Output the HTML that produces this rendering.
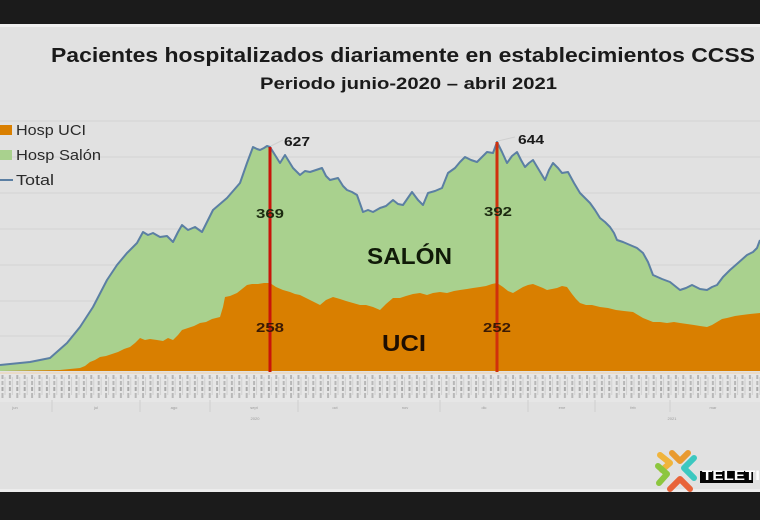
<!DOCTYPE html>
<html><head><meta charset="utf-8"><style>
html,body{margin:0;padding:0;width:760px;height:520px;overflow:hidden;background:#1b1b1b;}
svg{display:block;}
text{font-family:"Liberation Sans",sans-serif;}
</style></head><body>
<svg width="760" height="520" viewBox="0 0 760 520" xmlns="http://www.w3.org/2000/svg">
<defs>
<pattern id="tk" x="0" y="373" width="7.4" height="28" patternUnits="userSpaceOnUse">
<rect x="1.5" y="2" width="2" height="4" fill="#b4b4b4"/>
<rect x="1.5" y="8" width="2" height="4" fill="#b8b8b8"/>
<rect x="1.5" y="14" width="2" height="4" fill="#a8a8a8"/>
<rect x="1.5" y="20" width="2" height="5" fill="#b8b8b8"/>
<rect x="4.5" y="4" width="1" height="18" fill="#cfcfcf"/>
</pattern>
</defs>
<rect x="0" y="0" width="760" height="520" fill="#1b1b1b"/>
<rect x="0" y="24" width="760" height="468" fill="#e1e1e1"/>
<rect x="0" y="24" width="760" height="3" fill="#efefef"/>
<rect x="0" y="489" width="760" height="3" fill="#ececec"/>
<!-- gridlines -->
<g stroke="#d2d2d2" stroke-width="1">
<line x1="0" y1="121" x2="760" y2="121"/>
<line x1="0" y1="157" x2="760" y2="157"/>
<line x1="0" y1="193" x2="760" y2="193"/>
<line x1="0" y1="229" x2="760" y2="229"/>
<line x1="0" y1="265" x2="760" y2="265"/>
<line x1="0" y1="301" x2="760" y2="301"/>
<line x1="0" y1="336" x2="760" y2="336"/>
</g>
<!-- green (total) area -->
<polygon fill="#a9d18e" points="0,371 0,365 30,362 50,358 67,343 80,327 93,307 107,280 117,265 127,253 137,243 143,232 148,235 153,233 160,237 167,236 173,242 178,232 182,225 188,230 195,227 202,232 213,210 227,198 240,183 247,163 253,147 257,149 260,150 264,148 267,146 270,147 275,155 280,163 285,155 293,168 300,175 305,171 310,172 316,170 322,168 326,176 330,180 338,178 343,186 347,190 352,192 357,195 363,212 368,210 373,212 380,208 386,206 393,200 398,204 403,205 412,192 418,200 423,205 428,193 435,191 442,188 448,173 455,168 460,162 465,157 471,160 477,162 482,157 487,152 493,153 497,142 502,152 507,163 512,156 517,152 521,160 525,167 529,163 533,160 539,170 545,180 549,170 553,163 558,168 562,173 568,172 574,183 580,193 585,198 590,203 595,210 600,218 605,222 610,227 614,233 617,240 623,242 630,245 637,248 643,253 648,262 653,275 662,279 670,282 675,286 680,290 686,288 692,285 700,289 707,290 712,287 717,285 723,277 730,270 738,263 747,255 753,252 757,248 760,240 760,371"/>
<!-- orange (UCI) area -->
<polygon fill="#d97f00" points="0,371 60,370 70,369 80,368 85,366 90,362 95,360 100,357 106,356 112,354 118,352 124,349 130,347 135,343 140,338 145,340 150,339 157,340 163,341 168,338 173,340 178,335 182,330 188,328 194,326 200,323 206,322 212,319 220,317 223,307 225,297 230,296 237,293 242,289 247,285 252,284 258,284 264,283 270,283 276,287 283,290 290,292 295,294 300,295 306,298 312,301 316,303 320,305 326,300 333,297 340,299 346,301 353,303 360,305 366,305 373,307 380,310 386,304 393,298 400,298 406,296 413,294 420,293 427,295 433,293 440,292 447,293 454,291 460,290 467,289 473,288 480,287 486,286 492,284 497,283 503,287 508,291 513,293 518,290 523,287 528,285 533,284 538,286 543,288 547,290 552,289 557,288 562,286 567,287 572,294 576,299 580,303 586,305 592,305 600,307 608,308 616,310 624,311 633,312 638,315 643,318 648,320 653,322 660,322 667,323 674,322 680,323 687,324 694,325 700,326 707,327 712,325 717,322 722,319 727,318 735,316 742,315 750,314 760,313 760,371"/>
<!-- total line -->
<polyline fill="none" stroke="#5b7fa3" stroke-width="2" stroke-linejoin="round" points="0,365 30,362 50,358 67,343 80,327 93,307 107,280 117,265 127,253 137,243 143,232 148,235 153,233 160,237 167,236 173,242 178,232 182,225 188,230 195,227 202,232 213,210 227,198 240,183 247,163 253,147 257,149 260,150 264,148 267,146 270,147 275,155 280,163 285,155 293,168 300,175 305,171 310,172 316,170 322,168 326,176 330,180 338,178 343,186 347,190 352,192 357,195 363,212 368,210 373,212 380,208 386,206 393,200 398,204 403,205 412,192 418,200 423,205 428,193 435,191 442,188 448,173 455,168 460,162 465,157 471,160 477,162 482,157 487,152 493,153 497,142 502,152 507,163 512,156 517,152 521,160 525,167 529,163 533,160 539,170 545,180 549,170 553,163 558,168 562,173 568,172 574,183 580,193 585,198 590,203 595,210 600,218 605,222 610,227 614,233 617,240 623,242 630,245 637,248 643,253 648,262 653,275 662,279 670,282 675,286 680,290 686,288 692,285 700,289 707,290 712,287 717,285 723,277 730,270 738,263 747,255 753,252 757,248 760,240"/>
<!-- red markers -->
<line x1="270" y1="147" x2="270" y2="372" stroke="#c8140a" stroke-width="3"/>
<line x1="497" y1="142" x2="497" y2="372" stroke="#d0300c" stroke-width="3"/>
<line x1="271" y1="146" x2="283" y2="140" stroke="#cfcfcf" stroke-width="1"/>
<line x1="498" y1="141" x2="515" y2="137" stroke="#cfcfcf" stroke-width="1"/>
<!-- axis strip -->
<rect x="0" y="372" width="760" height="2" fill="#eadbc8"/>
<rect x="0" y="374" width="760" height="28" fill="#e6e6e6"/>
<rect x="0" y="374" width="760" height="28" fill="url(#tk)"/>
<g stroke="#cfcfcf" stroke-width="1">
<line x1="52" y1="400" x2="52" y2="412"/>
<line x1="140" y1="400" x2="140" y2="412"/>
<line x1="210" y1="400" x2="210" y2="412"/>
<line x1="298" y1="400" x2="298" y2="412"/>
<line x1="440" y1="400" x2="440" y2="412"/>
<line x1="528" y1="400" x2="528" y2="412"/>
<line x1="595" y1="400" x2="595" y2="412"/>
<line x1="670" y1="400" x2="670" y2="412"/>
</g>
<g font-size="4" fill="#9a9a9a" text-anchor="middle">
<text x="15" y="409">jun</text><text x="96" y="409">jul</text><text x="174" y="409">ago</text>
<text x="254" y="409">sept</text><text x="335" y="409">oct</text><text x="405" y="409">nov</text>
<text x="484" y="409">dic</text><text x="562" y="409">ene</text><text x="633" y="409">feb</text><text x="713" y="409">mar</text>
<text x="255" y="420">2020</text><text x="672" y="420">2021</text>
</g>
<!-- titles -->
<text x="51" y="62" font-size="20" font-weight="bold" fill="#1a1a1a" textLength="704" lengthAdjust="spacingAndGlyphs">Pacientes hospitalizados diariamente en establecimientos CCSS</text>
<text x="260" y="89" font-size="17" font-weight="bold" fill="#1a1a1a" textLength="297" lengthAdjust="spacingAndGlyphs">Periodo junio-2020 – abril 2021</text>
<!-- legend -->
<rect x="0" y="125" width="12" height="10" fill="#d97f00"/>
<text x="16" y="135" font-size="15" fill="#2a2a2a" textLength="70" lengthAdjust="spacingAndGlyphs">Hosp UCI</text>
<rect x="0" y="150" width="12" height="10" fill="#a9d18e"/>
<text x="16" y="160" font-size="15" fill="#2a2a2a" textLength="85" lengthAdjust="spacingAndGlyphs">Hosp Salón</text>
<line x1="0" y1="180" x2="13" y2="180" stroke="#5b7fa3" stroke-width="2"/>
<text x="16" y="185" font-size="15" fill="#2a2a2a" textLength="38" lengthAdjust="spacingAndGlyphs">Total</text>
<!-- data labels -->
<g font-size="13" font-weight="bold">
<text x="284" y="146" fill="#1a1a1a" textLength="26" lengthAdjust="spacingAndGlyphs">627</text>
<text x="518" y="144" fill="#1a1a1a" textLength="26" lengthAdjust="spacingAndGlyphs">644</text>
<text x="256" y="218" fill="#1c2a10" textLength="28" lengthAdjust="spacingAndGlyphs">369</text>
<text x="484" y="216" fill="#1c2a10" textLength="28" lengthAdjust="spacingAndGlyphs">392</text>
<text x="256" y="332" fill="#3a1a05" textLength="28" lengthAdjust="spacingAndGlyphs">258</text>
<text x="483" y="332" fill="#3a1a05" textLength="28" lengthAdjust="spacingAndGlyphs">252</text>
</g>
<text x="367" y="264" font-size="23" font-weight="bold" fill="#101a08" textLength="85" lengthAdjust="spacingAndGlyphs">SALÓN</text>
<text x="382" y="351" font-size="23" font-weight="bold" fill="#1e0e02" textLength="44" lengthAdjust="spacingAndGlyphs">UCI</text>
<!-- logo -->
<g fill="none" stroke-width="6" stroke-linecap="round" stroke-linejoin="round">
<polyline points="660,455 670,463 662,470" stroke="#f0b43c"/>
<polyline points="672,453 680,461 688,453" stroke="#e99a30"/>
<polyline points="694,458 684,468 694,478" stroke="#3cc8c0"/>
<polyline points="658,466 667,474 659,483" stroke="#8cc63e"/>
<polyline points="670,489 680,479 690,489" stroke="#e8643a"/>
</g>
<rect x="700" y="471" width="53" height="12" fill="#050505"/>
<text x="702" y="480" font-size="14" font-weight="bold" fill="#ffffff" textLength="58" lengthAdjust="spacingAndGlyphs">TELETI</text>
</svg>
</body></html>
